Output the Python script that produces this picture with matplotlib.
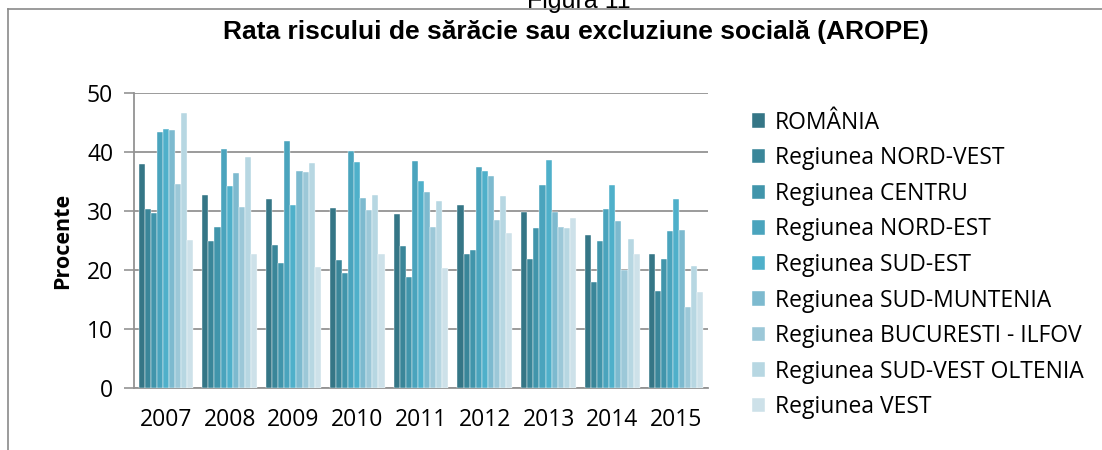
import numpy as np
import matplotlib; matplotlib.use("Agg")
import matplotlib.pyplot as plt
from matplotlib.lines import Line2D

years = ["2007", "2008", "2009", "2010", "2011", "2012", "2013", "2014", "2015"]
regions = ["ROMÂNIA", "Regiunea NORD-VEST", "Regiunea CENTRU", "Regiunea NORD-EST",
           "Regiunea SUD-EST", "Regiunea SUD-MUNTENIA", "Regiunea BUCURESTI - ILFOV",
           "Regiunea SUD-VEST OLTENIA", "Regiunea VEST"]
colors = ["#357686", "#3a8699", "#4195ab", "#4aa4bd", "#4fb0ca",
          "#7dbacf", "#9cc8d8", "#b7d7e2", "#cde1e9"]

romania      = [38.0, 32.7, 32.1, 30.5, 29.5, 31.1, 29.8, 25.9, 22.7]
nord_vest    = [30.4, 25.0, 24.3, 21.7, 24.2, 22.7, 21.9, 18.0, 16.5]
centru       = [29.7, 27.3, 21.2, 19.6, 18.9, 23.5, 27.2, 25.0, 21.9]
nord_est     = [43.5, 40.5, 41.9, 40.3, 38.6, 37.5, 34.5, 30.4, 26.7]
sud_est      = [43.9, 34.3, 31.1, 38.4, 35.2, 36.8, 38.7, 34.4, 32.1]
sud_muntenia = [43.7, 36.5, 36.9, 32.2, 33.2, 36.0, 29.9, 28.4, 26.8]
buc_ilfov    = [34.6, 30.8, 36.7, 30.3, 27.4, 28.6, 27.3, 20.0, 13.7]
sv_oltenia   = [46.7, 39.2, 38.1, 32.7, 31.7, 32.6, 27.1, 25.3, 20.8]
vest         = [25.1, 22.8, 20.6, 22.8, 20.4, 26.3, 28.8, 22.7, 16.4]
series = [romania, nord_vest, centru, nord_est, sud_est,
          sud_muntenia, buc_ilfov, sv_oltenia, vest]

plt.rcParams["font.family"] = ["Open Sans", "DejaVu Sans"]
fig = plt.figure(figsize=(11.02, 4.5), dpi=100)
ax = fig.add_axes([0.1216, 0.1371, 0.5209, 0.6556])

x = np.arange(len(years))
n = len(series)
bw = 0.857 / n
for i, (vals, c, lab) in enumerate(zip(series, colors, regions)):
    ax.bar(x - 0.857 / 2 + bw * (i + 0.5), vals, bw, color=c, label=lab,
           edgecolor="#ffffff", linewidth=0.3, zorder=3)

grid_c = "#939393"
ax.set_ylim(0, 50)
ax.set_xlim(-0.5, len(years) - 0.5)
ax.set_yticks([0, 10, 20, 30, 40, 50])
ax.yaxis.grid(True, color=grid_c, linewidth=1.3, zorder=0)
ax.set_xticks(x)
ax.set_xticklabels(years)
ax.tick_params(axis="x", length=0, pad=14, labelsize=16.5)
ax.tick_params(axis="y", length=7, width=1.2, color=grid_c, pad=8, labelsize=16.5)
for s in ["top", "right"]:
    ax.spines[s].set_visible(False)
for s in ["left", "bottom"]:
    ax.spines[s].set_color(grid_c)
    ax.spines[s].set_linewidth(1.3)
ax.set_ylabel("Procente", fontsize=15.5, fontweight="bold", labelpad=10)

ax.legend(loc="upper left", bbox_to_anchor=(1.06, 0.972), frameon=False,
          fontsize=16.5, handlelength=0.6, handleheight=0.6, handletextpad=0.4,
          labelspacing=0.505, borderaxespad=0)

fig.text(0.523, 0.929, "Rata riscului de sărăcie sau excluziune socială (AROPE)",
         ha="center", va="center", fontsize=19, fontweight="bold",
         family=["Liberation Sans", "DejaVu Sans"])
fig.text(0.525, 1 - 8 / 450, "Figura 11", ha="center", va="baseline", fontsize=18,
         family=["Liberation Sans", "DejaVu Sans"])

# outer chart frame (cut off at right and bottom)
fig.add_artist(Line2D([8 / 1102, 1.0], [1 - 9 / 450] * 2, color="#8a8a8a", lw=1.2))
fig.add_artist(Line2D([8 / 1102] * 2, [0, 1 - 9 / 450], color="#8a8a8a", lw=1.2))

fig.savefig("out.png", dpi=100)
